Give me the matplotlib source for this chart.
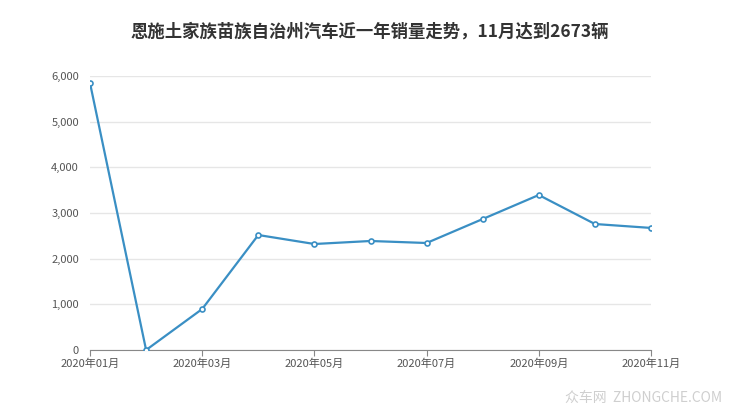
import matplotlib.pyplot as plt
from matplotlib.ticker import FuncFormatter

plt.rcParams['font.family'] = ['Noto Sans CJK SC', 'DejaVu Sans']

# Monthly sales data
months = ['2020年01月', '2020年02月', '2020年03月', '2020年04月', '2020年05月', '2020年06月',
          '2020年07月', '2020年08月', '2020年09月', '2020年10月', '2020年11月']
sales = [5846, 0, 898, 2518, 2321, 2387, 2343, 2868, 3394, 2759, 2673]

fig = plt.figure(figsize=(7.40, 4.17), dpi=100)
ax = fig.add_axes([90 / 740, 1 - 350 / 417, (651 - 90) / 740, (350 - 76) / 417])

x = list(range(len(months)))
ax.plot(x, sales, color='#3a8fc4', linewidth=1.6, marker='o', markersize=3.6,
        markerfacecolor='white', markeredgecolor='#3a8fc4', markeredgewidth=1.2, zorder=3)

ax.set_xlim(0, len(months) - 1)
ax.set_ylim(0, 6000)
ax.set_yticks(range(0, 6001, 1000))
ax.yaxis.set_major_formatter(FuncFormatter(lambda v, p: f'{int(v):,}'))
ax.set_xticks(x[::2])
ax.set_xticklabels(months[::2])

ax.grid(axis='y', color='#e6e6e6', linewidth=1)
for s in ['top', 'right', 'left']:
    ax.spines[s].set_visible(False)
ax.spines['bottom'].set_color('#888888')
ax.tick_params(axis='y', length=0, labelsize=8, labelcolor='#555555', pad=8)
ax.tick_params(axis='x', length=4, color='#888888', labelsize=8, labelcolor='#555555', pad=2)

fig.text(0.5, 1 - 32 / 417, '恩施土家族苗族自治州汽车近一年销量走势，11月达到2673辆',
         ha='center', va='center', fontsize=12.5, fontweight='bold', color='#333333')
fig.text(722 / 740, 1 - 398 / 417, '众车网  ZHONGCHE.COM', ha='right', va='center',
         fontsize=10, color='#cfcfcf')

plt.savefig('out.png', format='png')
